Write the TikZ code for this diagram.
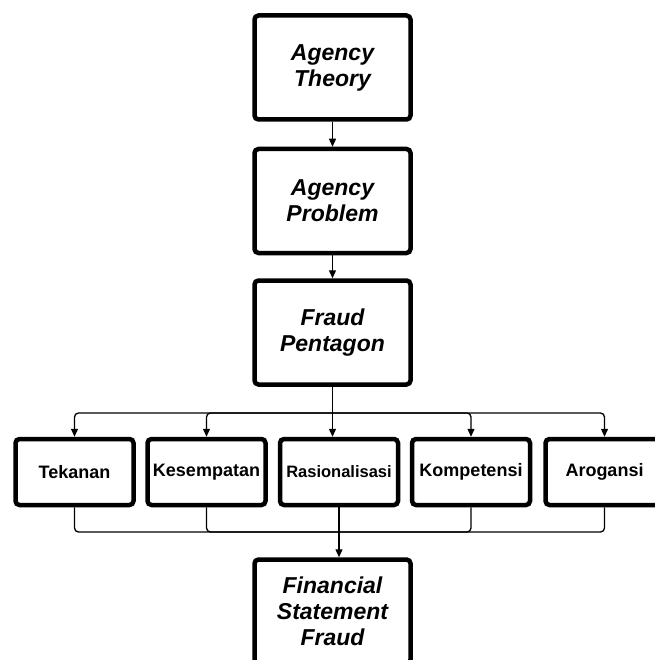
\documentclass[tikz,border=0pt]{standalone}
\usepackage{fontspec}
\setmainfont{Liberation Sans}
\usetikzlibrary{arrows.meta}

\begin{document}
\begin{tikzpicture}[x=1pt, y=-1pt,
  bigbox/.style={draw, line width=4.5pt, rounded corners=4pt, minimum width=156pt, minimum height=104pt, align=center, font=\fontsize{23}{26}\selectfont\bfseries\itshape},
  smallbox/.style={draw, line width=4.5pt, rounded corners=4pt, minimum width=118pt, minimum height=66pt, font=\fontsize{18}{21}\selectfont\bfseries},
  link/.style={line width=1.3pt, rounded corners=4pt},
  arr/.style={link, -{Triangle[length=8pt,width=7pt]}}]
\useasboundingbox (0,0) rectangle (654,660);

\node[bigbox] (theory) at (332.5,67.5) {Agency\\Theory};
\node[bigbox] (problem) at (332.5,201) {Agency\\Problem};
\node[bigbox] (pentagon) at (332.5,332.5) {Fraud\\Pentagon};

\node[smallbox] (tekanan) at (74.5,472) {Tekanan};
\node[smallbox] (kesempatan) at (206.5,472) {Kesempatan};
\node[smallbox, font=\fontsize{16.5}{19}\selectfont\bfseries] (rasional) at (339,472) {Rasionalisasi};
\node[smallbox] (kompetensi) at (471,472) {Kompetensi};
\node[smallbox] (arogansi) at (604.5,472) {Arogansi};

\node[bigbox] (fsf) at (332.5,611.5) {Financial\\Statement\\Fraud};

\draw[arr] (theory) -- (problem);
\draw[arr] (problem) -- (pentagon);

% split to the five elements
\coordinate (split) at (pentagon.south |- 0,413);
\draw[link] (pentagon.south) -- (split);
\foreach \n in {tekanan, kesempatan, kompetensi, arogansi}
  \draw[arr] (split) -| (\n.north);
\draw[arr] (split) -- (split |- rasional.north);

% merge towards the fraud
\coordinate (merge) at (rasional.south |- 0,532);
\foreach \n in {tekanan, kesempatan, kompetensi, arogansi}
  \draw[link] (\n.south) |- (merge);
\draw[arr] (rasional.south) -- (rasional.south |- fsf.north);
\end{tikzpicture}
\end{document}
